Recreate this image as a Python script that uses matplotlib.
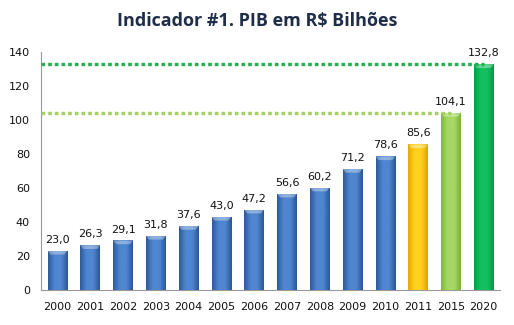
import numpy as np
import matplotlib
matplotlib.use("Agg")
import matplotlib.pyplot as plt
from matplotlib.colors import LinearSegmentedColormap

# --- Data ---
years = ["2000", "2001", "2002", "2003", "2004", "2005", "2006",
         "2007", "2008", "2009", "2010", "2011", "2015", "2020"]
pib = [23.0, 26.3, 29.1, 31.8, 37.6, 43.0, 47.2,
       56.6, 60.2, 71.2, 78.6, 85.6, 104.1, 132.8]
targets = [104.1, 132.8]  # dotted reference lines (2015, 2020)

# --- Style ---
BLUE = ("#2c5a9c", "#4f86d0", "#2a5696")
YELLOW = ("#e8a800", "#ffd21f", "#e0a000")
LIGHT_GREEN = ("#7cb83c", "#a6d866", "#78b238")
GREEN = ("#00a048", "#13c060", "#009a44")
bar_colors = [BLUE] * 11 + [YELLOW, LIGHT_GREEN, GREEN]
line_colors = ["#a2d262", "#22b050"]

plt.rcParams['font.family'] = ['DejaVu Sans']

fig = plt.figure(figsize=(5.14, 3.25), dpi=100)
ax = fig.add_axes([0.080, 0.108, 0.893, 0.732])

x = np.arange(len(years))
bars = ax.bar(x, pib, width=0.6, color="none", edgecolor="none", zorder=3)

# horizontal gradient fill clipped to each bar (gives the rounded 3D look)
grad = np.linspace(0, 1, 64).reshape(1, -1)
for b, cols in zip(bars, bar_colors):
    cmap = LinearSegmentedColormap.from_list("g", [cols[0], cols[1], cols[1], cols[2]])
    x0, w, h = b.get_x(), b.get_width(), b.get_height()
    im = ax.imshow(grad, extent=[x0, x0 + w, 0, h], aspect="auto",
                   cmap=cmap, zorder=3, interpolation="bicubic")
    im.set_clip_path(b)
    # lighter bevel at the top
    ax.fill([x0, x0 + w, x0 + w * 0.85, x0 + w * 0.15],
            [h, h, h - 2.2, h - 2.2], color="white", alpha=0.35,
            zorder=4, lw=0)

# dotted lines to the forecast bars
for val, col, idx in zip(targets, line_colors, [12, 13]):
    ax.plot([-0.5, x[idx]], [val, val], color=col, lw=2.4,
            linestyle=(0, (1.1, 0.9)), zorder=5)

# value labels
for xi, v in zip(x, pib):
    ax.text(xi, v + 3.5, f"{v:.1f}".replace(".", ","), ha="center",
            va="bottom", fontsize=8, color="#111111", zorder=6)

ax.set_xlim(-0.5, len(years) - 0.5)
ax.set_ylim(0, 140)
ax.set_yticks(range(0, 141, 20))
ax.set_xticks(x)
ax.set_xticklabels(years)
ax.tick_params(axis="both", labelsize=8, colors="#111111", length=0)
ax.tick_params(axis="x", pad=9)
ax.tick_params(axis="y", pad=8)

for s in ["top", "right"]:
    ax.spines[s].set_visible(False)
for s in ["left", "bottom"]:
    ax.spines[s].set_color("#999999")
    ax.spines[s].set_linewidth(0.8)

fig.text(0.5, 0.935, "Indicador #1. PIB em R$ Bilhões", ha="center",
         va="center", fontsize=13, fontweight="bold", color="#1f2d48",
         family=["Open Sans", "DejaVu Sans"])

fig.savefig("out.png", dpi=100, facecolor="white")
